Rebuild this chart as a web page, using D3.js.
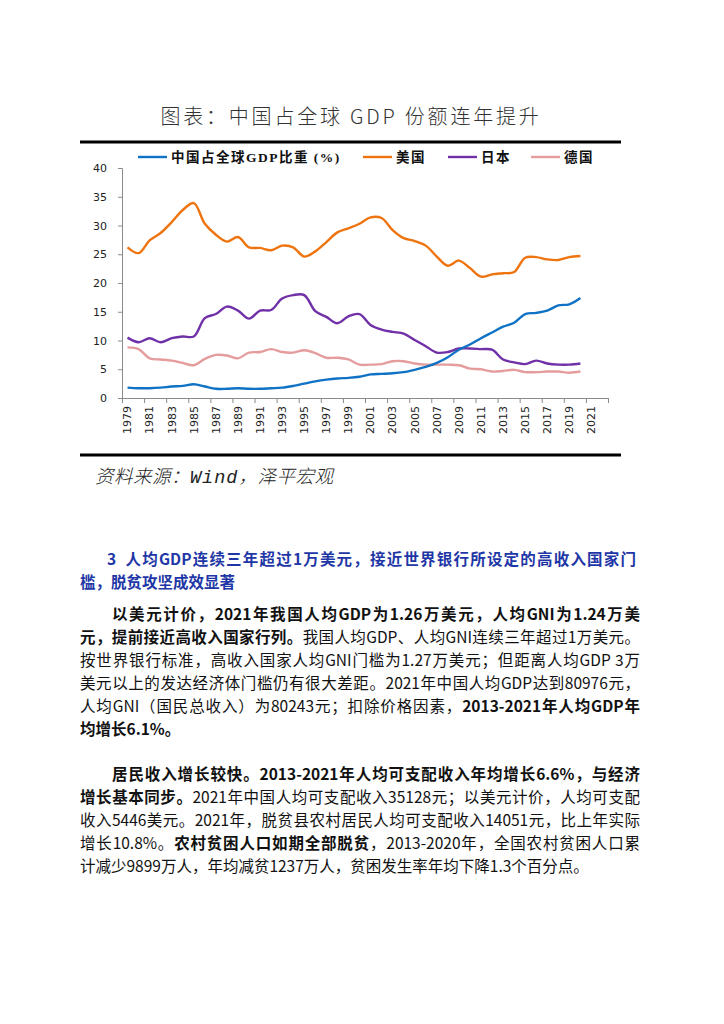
<!DOCTYPE html>
<html>
<head>
<meta charset="utf-8">
<script src="https://d3js.org/d3.v7.min.js"></script>
<style>
  body { margin: 0; background: #fff; width: 724px; height: 1024px; position: relative; overflow: hidden; }
  svg { position: absolute; left: 0; top: 0; }
  .txt { position: absolute; left: 80px; width: 560px; font-family: "Noto Sans CJK SC", sans-serif; font-size: 15.5px; color: #111; }
  .txt div { height: 23px; line-height: 23px; white-space: nowrap; text-align: justify; text-align-last: justify; }
  .txt div.last { text-align-last: left; }
  .txt div.ind { padding-left: 32px; }
  .txt b { font-weight: bold; }
  .head { color: #1f37a6; font-weight: bold; font-size: 15.5px; }
</style>
</head>
<body>
<div id="chart"></div>

<div class="txt head" style="top:547px; width:556px;">
  <div style="padding-left:27px;">3&nbsp;&nbsp;人均GDP连续三年超过1万美元，接近世界银行所设定的高收入国家门</div>
  <div class="last">槛，脱贫攻坚成效显著</div>
</div>

<div class="txt" style="top:602px;">
  <div class="ind"><b>以美元计价，2021年我国人均GDP为1.26万美元，人均GNI为1.24万美</b></div>
  <div><b>元，提前接近高收入国家行列。</b>我国人均GDP、人均GNI连续三年超过1万美元。</div>
  <div>按世界银行标准，高收入国家人均GNI门槛为1.27万美元；但距离人均GDP 3万</div>
  <div>美元以上的发达经济体门槛仍有很大差距。2021年中国人均GDP达到80976元，</div>
  <div>人均GNI（国民总收入）为80243元；扣除价格因素，<b>2013-2021年人均GDP年</b></div>
  <div class="last"><b>均增长6.1%。</b></div>
</div>

<div class="txt" style="top:762px;">
  <div class="ind"><b>居民收入增长较快。2013-2021年人均可支配收入年均增长6.6%，与经济</b></div>
  <div><b>增长基本同步。</b>2021年中国人均可支配收入35128元；以美元计价，人均可支配</div>
  <div>收入5446美元。2021年，脱贫县农村居民人均可支配收入14051元，比上年实际</div>
  <div>增长10.8%。<b>农村贫困人口如期全部脱贫</b>，2013-2020年，全国农村贫困人口累</div>
  <div class="last">计减少9899万人，年均减贫1237万人，贫困发生率年均下降1.3个百分点。</div>
</div>

<script>
// axis categories (Excel category axis runs one step past the data)
const categories = [1979,1980,1981,1982,1983,1984,1985,1986,1987,1988,1989,1990,1991,1992,1993,1994,1995,1996,1997,1998,1999,2000,
  2001,2002,2003,2004,2005,2006,2007,2008,2009,2010,2011,2012,2013,2014,2015,2016,2017,2018,2019,2020,2021,2022];
const years = categories.slice(0, 42);
const xLabels = [1979,1981,1983,1985,1987,1989,1991,1993,1995,1997,1999,2001,2003,2005,2007,2009,2011,2013,2015,2017,2019,2021];
const yTicks = [0,5,10,15,20,25,30,35,40];

const china = [1.8,1.7,1.7,1.8,2.0,2.1,2.4,2.0,1.6,1.6,1.7,1.6,1.6,1.7,1.8,2.1,2.5,2.9,3.2,3.4,3.5,
  3.7,4.1,4.2,4.3,4.5,4.9,5.4,6.1,7.1,8.4,9.3,10.4,11.4,12.4,13.1,14.6,14.8,15.2,16.1,16.3,17.4];
const usa = [26.2,25.2,27.4,28.7,30.6,32.7,33.9,30.3,28.4,27.2,28.0,26.2,26.1,25.7,26.5,26.2,24.6,25.5,27.1,28.8,29.5,
  30.3,31.4,31.3,29.2,27.8,27.3,26.5,24.6,23.0,23.9,22.6,21.1,21.5,21.7,21.9,24.4,24.5,24.1,24.0,24.5,24.7];
const japan = [10.5,9.7,10.4,9.7,10.4,10.7,10.7,13.9,14.6,15.9,15.2,13.8,15.2,15.3,17.3,17.9,17.9,15.1,14.1,13.0,14.2,
  14.6,12.7,11.9,11.5,11.2,10.1,9.0,7.9,8.0,8.6,8.6,8.5,8.4,6.7,6.2,5.9,6.5,6.0,5.8,5.8,6.0];
const germany = [8.8,8.5,6.9,6.7,6.5,6.1,5.7,6.8,7.5,7.4,6.9,7.9,8.0,8.5,8.0,7.9,8.3,7.8,7.0,7.0,6.7,
  5.8,5.8,5.9,6.4,6.4,6.0,5.8,5.8,5.8,5.7,5.1,5.0,4.6,4.7,4.9,4.5,4.5,4.6,4.6,4.4,4.6];

const seriesNames = ["中国占全球GDP比重 (%)", "美国", "日本", "德国"];
const seriesColors = ["#0f72c4", "#ee7410", "#7030a8", "#e59c9c"];
const seriesValues = [china, usa, japan, germany];

const W = 724, H = 500;
const plotL = 122, plotR = 608, plotT = 168, plotB = 398;

const svg = d3.select("#chart").append("svg").attr("width", W).attr("height", H);

// title + rules
svg.append("text")
  .attr("x", 351).attr("y", 124)
  .attr("text-anchor", "middle")
  .attr("font-family", "Noto Sans CJK SC")
  .attr("font-weight", 300)
  .attr("font-size", 20)
  .attr("letter-spacing", 2.8)
  .attr("fill", "#333")
  .text("图表：中国占全球 GDP 份额连年提升");

svg.append("line").attr("x1", 80).attr("x2", 621).attr("y1", 142).attr("y2", 142)
  .attr("stroke", "#000").attr("stroke-width", 3);
svg.append("line").attr("x1", 80).attr("x2", 621).attr("y1", 455).attr("y2", 455)
  .attr("stroke", "#000").attr("stroke-width", 3);

const src = svg.append("text")
  .attr("x", 95).attr("y", 483)
  .attr("font-family", "Noto Sans CJK SC")
  .attr("font-weight", 300)
  .attr("font-size", 18.5)
  .attr("letter-spacing", 0.5)
  .attr("font-style", "italic")
  .attr("fill", "#222");
src.append("tspan").text("资料来源：");
src.append("tspan").attr("font-family", "Liberation Mono").attr("letter-spacing", 1).text("Wind");
src.append("tspan").text("，泽平宏观");

// scales
const x = d3.scaleBand().domain(categories).range([plotL, plotR]).padding(0);
const xEdge = d3.scaleLinear().domain([1979, 2023]).range([plotL, plotR]);
const y = d3.scaleLinear().domain([0, 40]).range([plotB, plotT]);

const axisColor = "#8a8a8a";

const gy = svg.append("g").attr("transform", `translate(${plotL},0)`)
  .call(d3.axisLeft(y).tickValues(yTicks).tickSize(4).tickPadding(11));
gy.select(".domain").attr("stroke", axisColor);
gy.selectAll(".tick line").attr("stroke", axisColor);
gy.selectAll("text").attr("font-family", "DejaVu Sans").attr("font-size", 11).attr("fill", "#222");

// boundary tick marks
const gxt = svg.append("g").attr("transform", `translate(0,${plotB})`)
  .call(d3.axisBottom(xEdge).tickValues(xLabels.concat([2023])).tickSize(5).tickFormat(""));
gxt.select(".domain").attr("stroke", axisColor);
gxt.selectAll(".tick line").attr("stroke", axisColor);

// rotated category labels
const gx = svg.append("g").attr("transform", `translate(0,${plotB})`)
  .call(d3.axisBottom(x).tickValues(xLabels).tickSize(0));
gx.select(".domain").remove();
gx.selectAll("text")
  .attr("font-family", "DejaVu Sans").attr("font-size", 11).attr("fill", "#222")
  .attr("transform", "rotate(-90)")
  .attr("text-anchor", "end")
  .attr("x", -8).attr("y", 0).attr("dy", "0.35em");

// lines
const line = d3.line()
  .x((d, i) => x(years[i]) + x.bandwidth() / 2)
  .y(d => y(d))
  .curve(d3.curveCatmullRom.alpha(0.5));

[3, 2, 1, 0].forEach(k => {
  svg.append("path")
    .datum(seriesValues[k])
    .attr("fill", "none")
    .attr("stroke", seriesColors[k])
    .attr("stroke-width", 2.4)
    .attr("stroke-linejoin", "round")
    .attr("d", line);
});

// legend
const legendX = [138, 363, 448, 531];
const lg = svg.append("g");
seriesNames.forEach((name, k) => {
  lg.append("line")
    .attr("x1", legendX[k]).attr("x2", legendX[k] + 29)
    .attr("y1", 157).attr("y2", 157)
    .attr("stroke", seriesColors[k]).attr("stroke-width", 2.4);
  lg.append("text")
    .attr("x", legendX[k] + 33).attr("y", 162)
    .attr("font-family", "Liberation Serif, Noto Sans CJK SC")
    .attr("font-weight", "bold")
    .attr("font-size", 13.5)
    .attr("letter-spacing", 1.5)
    .attr("fill", "#111")
    .text(name);
});
</script>
</body>
</html>
